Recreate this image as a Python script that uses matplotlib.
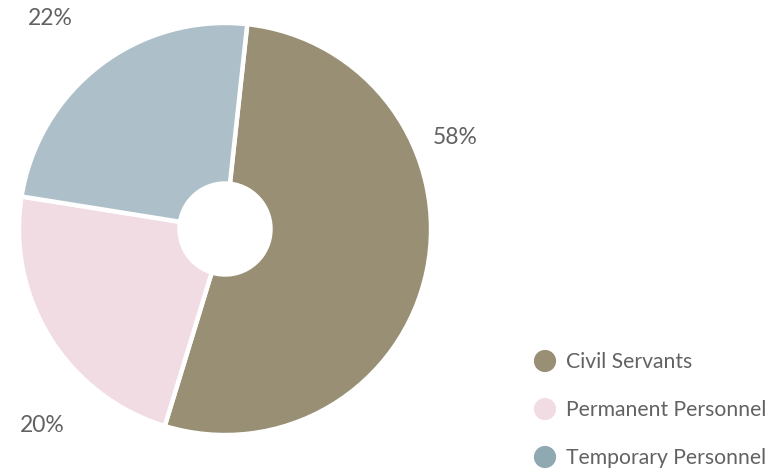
import matplotlib
matplotlib.use("Agg")
import matplotlib.pyplot as plt
import numpy as np

# ---- data ----
categories = ["Civil Servants", "Permanent Personnel", "Temporary Personnel"]
shares = [53.0, 22.8, 24.2]            # slice sizes as drawn
pct_labels = ["58%", "20%", "22%"]     # label texts as printed
colors = ["#988F74", "#F2DCE4", "#ADC0C9"]
legend_colors = ["#988F74", "#F2DCE4", "#8FA8B2"]

W, H = 773, 474
PX = 204.0                    # pixels per data unit (pie radius)
cx, cy = 225, 229             # pie center in pixels (from top-left)

plt.rcParams['font.family'] = ['Lato', 'DejaVu Sans']
fig = plt.figure(figsize=(W / 100, H / 100), dpi=100)
ax = fig.add_axes([0, 0, 1, 1])

hole = 45.5 / PX
ax.pie(shares, colors=colors, startangle=83.8, counterclock=False,
       radius=1.01,
       wedgeprops=dict(width=1.01 - hole, edgecolor="white", linewidth=3.2))

ax.set_xlim(-cx / PX, (W - cx) / PX)
ax.set_ylim(-(H - cy) / PX, cy / PX)
ax.set_aspect('equal', adjustable='box')
ax.axis('off')

# percentage labels
label_r = [1.214, 1.315, 1.344]
label_ang = [21.8, 227.0, 129.7]
for t, r, a in zip(pct_labels, label_r, label_ang):
    th = np.deg2rad(a)
    ax.text(r * np.cos(th), r * np.sin(th), t, ha='center', va='center',
            fontsize=16.5, color='#626262')

# legend (manual)
leg_x_px = 545
leg_y_px = [361, 409, 457]
for name, c, ypx in zip(categories, legend_colors, leg_y_px):
    x = (leg_x_px - cx) / PX
    y = (cy - ypx) / PX
    ax.scatter([x], [y], s=255, color=c, edgecolors='none', clip_on=False)
    ax.text((566 - cx) / PX, (cy - ypx - 7) / PX, name, ha='left',
            va='baseline', fontsize=15.2, color='#626262')

fig.savefig("out.png", dpi=100)
